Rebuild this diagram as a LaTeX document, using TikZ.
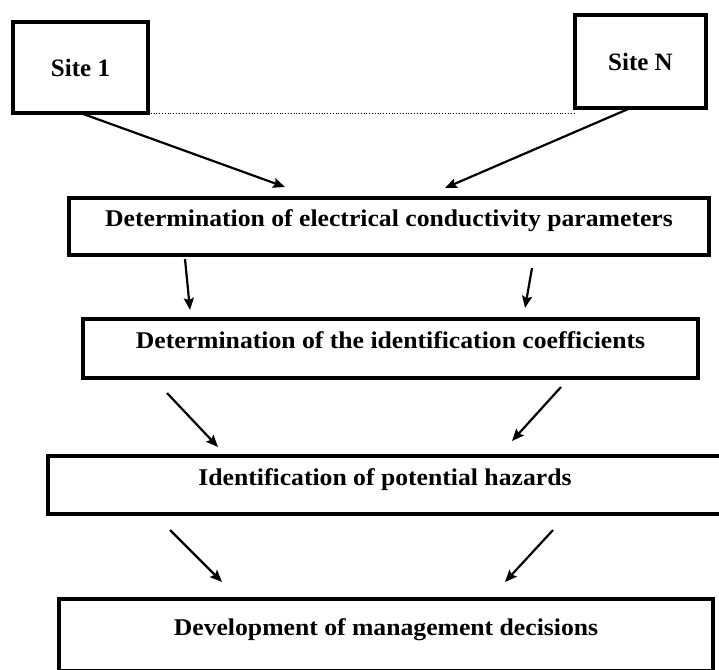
\documentclass[tikz,border=0pt]{standalone}
\usepackage{fontspec}
\setmainfont{Liberation Serif}[FakeStretch=1.07]
\newfontfamily\sitefont{Liberation Serif}
\usetikzlibrary{arrows.meta}
\tikzset{
site box/.style={draw=black, line width=4.5pt, inner sep=0pt, outer sep=0pt,
                 font=\sitefont\bfseries\fontsize{25}{30}\selectfont},
stage box/.style={draw=black, line width=4pt, inner sep=0pt, outer sep=0pt,
                  text height=15pt, text depth=15pt,
                  font=\bfseries\fontsize{24}{28}\selectfont},
flow/.style={line width=2.2pt, -{Stealth[length=12pt,width=10pt,inset=2pt]}}
}

\begin{document}
\begin{tikzpicture}[x=1pt,y=-1pt]
\useasboundingbox (0,0) rectangle (719,669);

% Coordinates
\coordinate (site1_tip) at (285,187);
\coordinate (siten_tip) at (445,188);
\coordinate (cond_left_top) at (185,259);
\coordinate (cond_right_top) at (532,268);
\coordinate (coef_left_tip) at (190,310);
\coordinate (coef_right_tip) at (525,308);
\coordinate (coef_left_bottom) at (167,393);
\coordinate (coef_right_bottom) at (561,387);
\coordinate (hazard_left_tip) at (218,447);
\coordinate (hazard_right_tip) at (512,441);
\coordinate (hazard_left_bottom) at (170,530);
\coordinate (hazard_right_bottom) at (553,530);
\coordinate (decision_left_tip) at (222,582);
\coordinate (decision_right_tip) at (505,582);

% Boxes
\node[site box, minimum width=135pt, minimum height=91pt] (site1) at (80.5,67.5) {Site 1};
\node[site box, minimum width=131pt, minimum height=93pt] (siten) at (640.5,61.5) {Site N};

\node[stage box, minimum width=640pt, minimum height=57pt] (cond) at (389,226.5) {Determination of electrical conductivity parameters};
\node[stage box, minimum width=615pt, minimum height=59pt] (coef) at (390.5,348.5) {Determination of the identification coefficients};
\node[stage box, minimum width=674pt, minimum height=58pt] (hazard) at (385,485) {Identification of potential hazards};
\node[stage box, minimum width=654pt, minimum height=72pt] (decision) at (386,635) {Development of management decisions};

% Arrows
\draw[dotted, line width=0.8pt] (site1.south east) -- (siten.west |- site1.south east);

\draw[flow] (site1.south) -- (site1_tip);
\draw[flow] ([xshift=-10pt]siten.south) -- (siten_tip);
\draw[flow] (cond_left_top) -- (coef_left_tip);
\draw[flow] (cond_right_top) -- (coef_right_tip);
\draw[flow] (coef_left_bottom) -- (hazard_left_tip);
\draw[flow] (coef_right_bottom) -- (hazard_right_tip);
\draw[flow] (hazard_left_bottom) -- (decision_left_tip);
\draw[flow] (hazard_right_bottom) -- (decision_right_tip);

\end{tikzpicture}
\end{document}
